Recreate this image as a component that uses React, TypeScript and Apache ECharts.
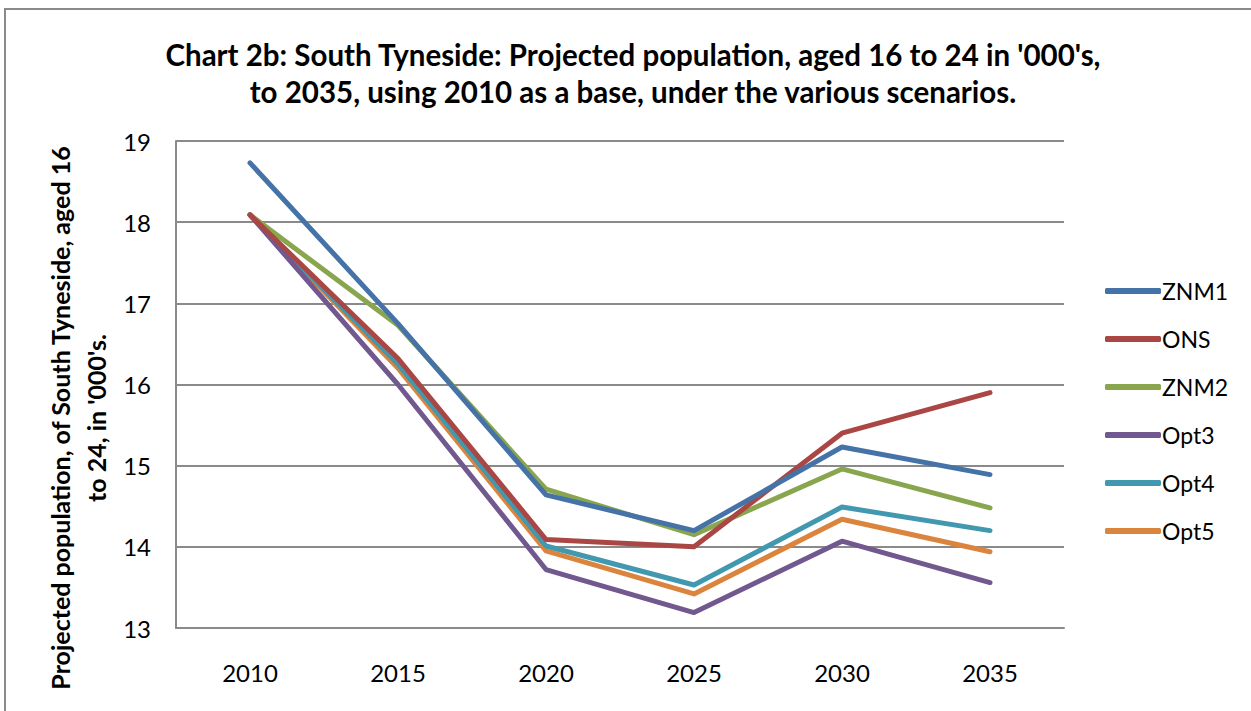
import React, { useEffect, useRef } from "react";
import * as echarts from "echarts";

const years = ["2010", "2015", "2020", "2025", "2030", "2035"];
const znm1 = [18.73, 16.75, 14.64, 14.2, 15.23, 14.89];
const ons = [18.09, 16.32, 14.09, 14.0, 15.4, 15.9];
const znm2 = [18.09, 16.73, 14.71, 14.15, 14.96, 14.48];
const opt3 = [18.09, 16.0, 13.72, 13.19, 14.07, 13.56];
const opt4 = [18.09, 16.25, 14.01, 13.53, 14.49, 14.2];
const opt5 = [18.09, 16.2, 13.95, 13.42, 14.34, 13.94];

const seriesNames = ["ZNM1", "ONS", "ZNM2", "Opt3", "Opt4", "Opt5"];
const seriesData = [znm1, ons, znm2, opt3, opt4, opt5];
const colors = ["#4572A7", "#AA4643", "#89A54E", "#71588F", "#4198AF", "#DB843D"];

const titleLines = [
  "Chart 2b: South Tyneside: Projected population, aged 16 to 24 in '000's,",
  "to 2035, using 2010 as a base, under the various scenarios.",
];
const yTitle = "Projected population, of South Tyneside, aged 16\nto 24, in '000's.";

export default function App() {
  const ref = useRef<HTMLDivElement>(null);
  useEffect(() => {
    if (!ref.current) return;
    const chart = echarts.init(ref.current, undefined, { renderer: "svg" });
    const font = "Lato, 'Open Sans', sans-serif";
    chart.setOption({
      animation: false,
      color: colors,
      textStyle: { fontFamily: font },
      grid: { left: 176, right: 187, top: 141, bottom: 83, containLabel: false },
      graphic: [
        {
          type: "rect",
          shape: { x: 5, y: 9, width: 1300, height: 800 },
          style: { fill: "none", stroke: "#8a8a8a", lineWidth: 2 },
          silent: true,
        },
        {
          type: "text",
          x: 633,
          y: 54,
          style: {
            text: titleLines[0],
            fontFamily: font,
            fontWeight: "bold",
            fontSize: 29.5,
            fill: "#000",
            align: "center",
            verticalAlign: "middle",
          },
        },
        {
          type: "text",
          x: 633,
          y: 91,
          style: {
            text: titleLines[1],
            fontFamily: font,
            fontWeight: "bold",
            fontSize: 29.5,
            fill: "#000",
            align: "center",
            verticalAlign: "middle",
          },
        },
        {
          type: "text",
          x: 78,
          y: 418,
          rotation: Math.PI / 2,
          style: {
            text: yTitle,
            fontFamily: font,
            fontWeight: "bold",
            fontSize: 25,
            lineHeight: 36,
            fill: "#000",
            align: "center",
            verticalAlign: "middle",
          },
        },
      ],
      legend: {
        orient: "vertical",
        left: 1100,
        top: 273,
        itemWidth: 56,
        itemHeight: 6,
        itemGap: 22,
        icon: "roundRect",
        textStyle: { fontSize: 23, lineHeight: 26, color: "#000", fontFamily: font, padding: [0, 0, 0, -4] },
        data: seriesNames,
      },
      xAxis: {
        type: "category",
        data: years,
        boundaryGap: true,
        axisLine: { show: true, lineStyle: { color: "#8a8a8a", width: 2 } },
        axisTick: { show: false },
        axisLabel: { fontSize: 24, color: "#000", margin: 32, fontFamily: font },
      },
      yAxis: {
        type: "value",
        min: 13,
        max: 19,
        interval: 1,
        axisLine: { show: true, lineStyle: { color: "#8a8a8a", width: 2 } },
        axisTick: { show: false },
        splitLine: { show: true, lineStyle: { color: "#8a8a8a", width: 2 } },
        axisLabel: { fontSize: 24, color: "#000", margin: 25, fontFamily: font },
      },
      series: seriesNames.map((name, i) => ({
        name,
        type: "line",
        data: seriesData[i],
        symbol: "none",
        lineStyle: { width: 5, color: colors[i], cap: "round", join: "round" },
        itemStyle: { color: colors[i] },
        z: 10 - i,
      })),
    });
    return () => chart.dispose();
  }, []);
  return <div ref={ref} style={{ width: 1251, height: 711, position: "absolute", left: 0, top: 0 }} />;
}
